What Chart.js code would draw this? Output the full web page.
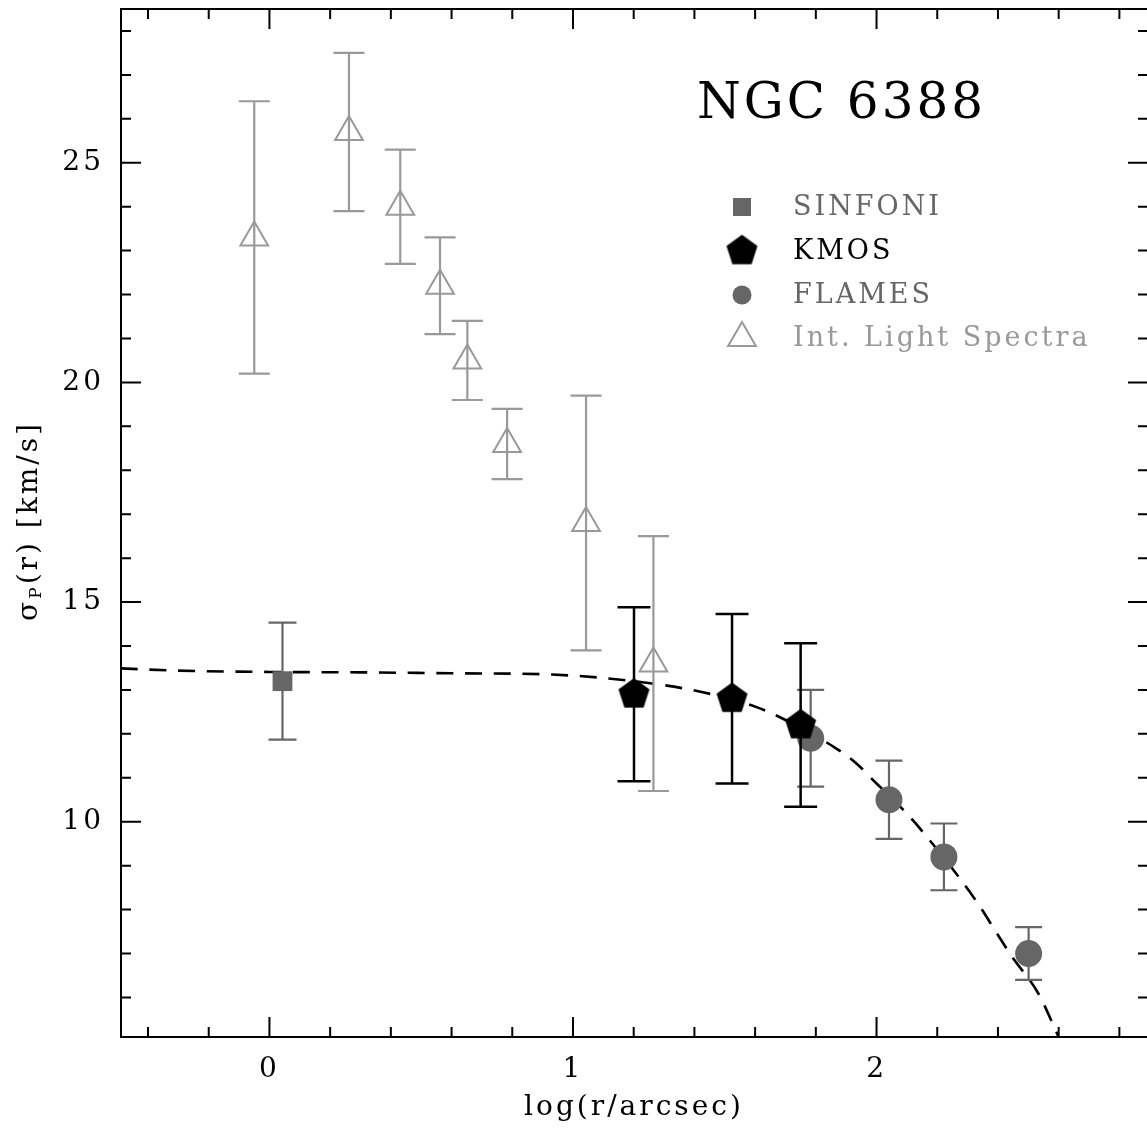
<!DOCTYPE html>
<html>
<head>
<meta charset="utf-8">
<script src="https://cdn.jsdelivr.net/npm/chart.js@4.4.1/dist/chart.umd.min.js"></script>
<style>
  html, body { margin: 0; padding: 0; background: #fff; overflow: hidden; }
  canvas { display: block; }
</style>
</head>
<body>
<canvas id="sigmaChart" width="1147" height="1129"></canvas>
<script>
// values
const sinfoniX = [0.043];
const sinfoniY = [13.2];
const sinfoniErr = [1.33];

const kmosX = [1.201, 1.524, 1.750];
const kmosY = [12.9, 12.8, 12.2];
const kmosErr = [1.98, 1.93, 1.86];

const flamesX = [1.783, 2.041, 2.222, 2.501];
const flamesY = [11.9, 10.5, 9.2, 7.0];
const flamesErr = [1.1, 0.89, 0.76, 0.6];

const ilsX = [-0.05, 0.262, 0.431, 0.562, 0.652, 0.783, 1.043, 1.265];
const ilsY = [23.3, 25.7, 24.0, 22.2, 20.5, 18.6, 16.8, 13.6];
const ilsErr = [3.1, 1.8, 1.3, 1.1, 0.9, 0.8, 2.9, 2.9];

// dashed model profile
const modelX = [-0.49, -0.3, 0, 0.3, 0.6, 0.93, 1.2, 1.42, 1.6, 1.69, 1.86, 1.93, 2.0, 2.07, 2.14, 2.33, 2.39, 2.446, 2.533, 2.6];
const modelY = [13.49, 13.44, 13.41, 13.40, 13.38, 13.35, 13.20, 12.96, 12.62, 12.35, 11.70, 11.35, 10.87, 10.40, 9.87, 8.18, 7.53, 6.93, 6.09, 5.1];

const xTicks = [0, 1, 2];
const yTicks = [10, 15, 20, 25];
const legendLabels = ['SINFONI', 'KMOS', 'FLAMES', 'Int. Light Spectra'];
const titleText = 'NGC 6388';

const FONT = "'DejaVu Serif', serif";
const DARK = '#666666';
const LIGHT = '#999999';

function pts(xs, ys) {
    return xs.map((x, i) => ({ x: x, y: ys[i] }));
}

function pentagon(R, color) {
    const size = Math.ceil(2 * R) + 2;
    const c = document.createElement('canvas');
    c.width = size; c.height = size;
    const g = c.getContext('2d');
    g.fillStyle = color;
    g.beginPath();
    for (let i = 0; i < 5; i++) {
        const a = -Math.PI / 2 + i * 2 * Math.PI / 5;
        g.lineTo(size / 2 + R * Math.cos(a), size / 2 + R * Math.sin(a));
    }
    g.closePath();
    g.fill();
    return c;
}

const penta = pentagon(16.3, '#000');

// wide letter spacing like the plotting package's font
const spacing = {
    id: 'spacing',
    beforeDraw(chart) { chart.ctx.letterSpacing = '3px'; }
};

// error bars drawn just under each dataset's markers
const errorBars = {
    id: 'errorBars',
    beforeDatasetDraw(chart, args) {
        const ds = chart.data.datasets[args.index];
        if (!ds.err) return;
        const ctx = chart.ctx, xs = chart.scales.x, ys = chart.scales.y;
        ctx.save();
        ctx.strokeStyle = ds.errColor;
        ctx.lineWidth = ds.errWidth;
        ds.data.forEach((p, i) => {
            const px = xs.getPixelForValue(p.x);
            const top = ys.getPixelForValue(p.y + ds.err[i]);
            const bot = ys.getPixelForValue(p.y - ds.err[i]);
            const w = ds.capWidth / 2;
            ctx.beginPath();
            ctx.moveTo(px, top); ctx.lineTo(px, bot);
            ctx.moveTo(px - w, top); ctx.lineTo(px + w, top);
            ctx.moveTo(px - w, bot); ctx.lineTo(px + w, bot);
            ctx.stroke();
        });
        ctx.restore();
    }
};

// box with inward ticks on all four sides (right edge sits just off the canvas)
const frame = {
    id: 'frame',
    afterDatasetsDraw(chart) {
        const ctx = chart.ctx, a = chart.chartArea;
        const xs = chart.scales.x, ys = chart.scales.y;
        const right = a.right + 1;
        ctx.save();
        ctx.strokeStyle = '#000';
        ctx.lineWidth = 2;
        ctx.strokeRect(a.left, a.top, right - a.left, a.bottom - a.top);
        ctx.beginPath();
        for (let k = Math.ceil(xs.min * 5); k <= Math.floor(xs.max * 5); k++) {
            const v = k / 5;
            const len = (k % 5 === 0) ? 20 : 10;
            const px = xs.getPixelForValue(v);
            ctx.moveTo(px, a.bottom); ctx.lineTo(px, a.bottom - len);
            ctx.moveTo(px, a.top); ctx.lineTo(px, a.top + len);
        }
        for (let v = Math.ceil(ys.min); v <= Math.floor(ys.max); v++) {
            const len = (v % 5 === 0) ? 20 : 10;
            const py = ys.getPixelForValue(v);
            ctx.moveTo(a.left, py); ctx.lineTo(a.left + len, py);
            ctx.moveTo(right, py); ctx.lineTo(right - len, py);
        }
        ctx.stroke();
        ctx.restore();
    }
};

// title, legend and y label
const annotations = {
    id: 'annotations',
    afterDraw(chart) {
        const ctx = chart.ctx;
        ctx.save();
        ctx.letterSpacing = '3px';

        ctx.fillStyle = '#000';
        ctx.font = '50px ' + FONT;
        ctx.textAlign = 'left';
        ctx.textBaseline = 'alphabetic';
        ctx.fillText(titleText, 697, 118);

        const lx = 742, tx = 793;
        const rows = [207, 251, 295, 338];
        const colors = [DARK, '#000', DARK, LIGHT];
        // markers
        ctx.fillStyle = DARK;
        ctx.fillRect(lx - 9, rows[0] - 9, 18, 18);
        ctx.drawImage(penta, lx - penta.width / 2, rows[1] - penta.height / 2);
        ctx.beginPath();
        ctx.arc(lx, rows[2], 9.5, 0, Math.PI * 2);
        ctx.fill();
        const r = 16;
        ctx.strokeStyle = LIGHT;
        ctx.lineWidth = 2;
        ctx.beginPath();
        ctx.moveTo(lx, rows[3] - r);
        ctx.lineTo(lx + r * Math.sin(2 * Math.PI / 3), rows[3] + r / 2);
        ctx.lineTo(lx - r * Math.sin(2 * Math.PI / 3), rows[3] + r / 2);
        ctx.closePath();
        ctx.stroke();
        // labels
        ctx.font = '27px ' + FONT;
        ctx.textBaseline = 'middle';
        legendLabels.forEach((t, i) => {
            ctx.fillStyle = colors[i];
            ctx.fillText(t, tx, rows[i] + 1);
        });

        // y axis label with subscript
        ctx.translate(30, 521);
        ctx.rotate(-Math.PI / 2);
        ctx.fillStyle = '#000';
        ctx.textBaseline = 'middle';
        const big = '28px ' + FONT, small = '17px ' + FONT;
        const parts = [['\u03c3', big, 0], ['P', small, 7], ['(r) [km/s]', big, 0]];
        let total = 0;
        parts.forEach(p => { ctx.font = p[1]; total += ctx.measureText(p[0]).width; });
        let cx = -total / 2;
        parts.forEach(p => {
            ctx.font = p[1];
            ctx.fillText(p[0], cx, p[2]);
            cx += ctx.measureText(p[0]).width;
        });
        ctx.restore();
    }
};

new Chart(document.getElementById('sigmaChart').getContext('2d'), {
    type: 'scatter',
    data: {
        datasets: [
            {
                label: 'KMOS',
                data: pts(kmosX, kmosY),
                pointStyle: penta,
                err: kmosErr, errColor: '#000', errWidth: 2.5, capWidth: 33,
                order: 0
            },
            {
                label: 'FLAMES',
                data: pts(flamesX, flamesY),
                pointStyle: 'circle',
                pointRadius: 13.5,
                backgroundColor: DARK,
                borderWidth: 0,
                err: flamesErr, errColor: DARK, errWidth: 2.2, capWidth: 27,
                order: 1
            },
            {
                label: 'SINFONI',
                data: pts(sinfoniX, sinfoniY),
                pointStyle: 'rect',
                pointRadius: 14,
                backgroundColor: DARK,
                borderWidth: 0,
                err: sinfoniErr, errColor: DARK, errWidth: 2.2, capWidth: 28,
                order: 2
            },
            {
                label: 'Int. Light Spectra',
                data: pts(ilsX, ilsY),
                pointStyle: 'triangle',
                pointRadius: 16,
                backgroundColor: 'rgba(0,0,0,0)',
                borderColor: LIGHT,
                borderWidth: 2,
                err: ilsErr, errColor: LIGHT, errWidth: 2.2, capWidth: 31,
                order: 3
            },
            {
                type: 'line',
                label: 'model',
                data: pts(modelX, modelY),
                borderColor: '#000',
                borderWidth: 2.6,
                borderDash: [17, 11.7],
                pointRadius: 0,
                cubicInterpolationMode: 'monotone',
                fill: false,
                order: 5
            }
        ]
    },
    options: {
        responsive: false,
        animation: false,
        events: [],
        devicePixelRatio: 1,
        layout: { autoPadding: false, padding: { top: 9, right: 0, bottom: 0, left: 0 } },
        plugins: {
            legend: { display: false },
            tooltip: { enabled: false }
        },
        scales: {
            x: {
                type: 'linear',
                min: -0.489,
                max: 2.891,
                afterFit: s => { s.height = 92; s.paddingLeft = 0; s.paddingRight = 0; },
                grid: { display: false, drawTicks: false },
                border: { display: false },
                afterBuildTicks: s => { s.ticks = xTicks.map(v => ({ value: v })); },
                ticks: {
                    padding: 16,
                    color: '#000',
                    font: { family: FONT, size: 28 },
                    callback: v => String(v)
                },
                title: {
                    display: true,
                    text: 'log(r/arcsec)',
                    color: '#000',
                    font: { family: FONT, size: 28 },
                    padding: { top: 0, bottom: 4 }
                }
            },
            y: {
                type: 'linear',
                min: 5.1,
                max: 28.5,
                afterFit: s => { s.width = 121; s.paddingTop = 0; s.paddingBottom = 0; },
                grid: { display: false, drawTicks: false },
                border: { display: false },
                afterBuildTicks: s => { s.ticks = yTicks.map(v => ({ value: v })); },
                ticks: {
                    padding: 17,
                    color: '#000',
                    font: { family: FONT, size: 28 },
                    callback: v => String(v)
                }
            }
        }
    },
    plugins: [spacing, errorBars, frame, annotations]
});
</script>
</body>
</html>
